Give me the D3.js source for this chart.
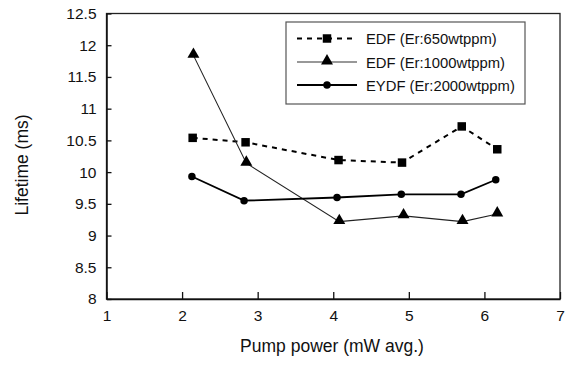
<!DOCTYPE html>
<html><head><meta charset="utf-8">
<script src="https://cdn.jsdelivr.net/npm/d3@7/dist/d3.min.js"></script>
<style>body{margin:0;background:#fff}svg{display:block;font-family:"Liberation Sans",Arial,sans-serif}</style>
</head><body>
<svg id="c" width="567" height="372"></svg>
<script>
const xTicks = [1,2,3,4,5,6,7];
const yTicks = [8,8.5,9,9.5,10,10.5,11,11.5,12,12.5];
const yTickLabels = ["8","8.5","9","9.5","10","10.5","11","11.5","12","12.5"];
const seriesNames = ["EDF (Er:650wtppm)","EDF (Er:1000wtppm)","EYDF (Er:2000wtppm)"];
const xEDF650 = [2.14,2.84,4.07,4.91,5.70,6.17];
const yEDF650 = [10.54,10.47,10.19,10.15,10.72,10.36];
const xEDF1000 = [2.15,2.85,4.08,4.93,5.71,6.17];
const yEDF1000 = [11.84,10.14,9.22,9.31,9.22,9.34];
const xEYDF = [2.13,2.82,4.05,4.90,5.69,6.15];
const yEYDF = [9.93,9.55,9.60,9.65,9.65,9.88];

const svg = d3.select("#c");
const x = d3.scaleLinear().domain([1,7]).range([106.5,560]);
const y = d3.scaleLinear().domain([8,12.5]).range([299,13.5]);

// frame
svg.append("rect").attr("x",106.5).attr("y",13.5).attr("width",453.5).attr("height",285.5)
  .attr("fill","none").attr("stroke","#222").attr("stroke-width",1.3);

const xAxis = svg.append("g").attr("transform","translate(0,299)")
  .call(d3.axisBottom(x).tickValues(xTicks).tickSizeInner(-7).tickSizeOuter(0).tickPadding(11).tickFormat(d3.format("d")));
const yAxis = svg.append("g").attr("transform","translate(106.5,0)")
  .call(d3.axisLeft(y).tickValues(yTicks).tickSizeInner(-5).tickSizeOuter(0).tickPadding(10).tickFormat((d,i)=>yTickLabels[i]));
[xAxis,yAxis].forEach(g=>{
  g.selectAll("path").attr("stroke","#111").attr("stroke-width",1.5);
  g.selectAll("line").attr("stroke","#111").attr("stroke-width",1.3);
  g.selectAll("text").attr("font-size",15.5).attr("fill","#111").attr("font-family","Liberation Sans, Arial, sans-serif");
});

svg.append("text").attr("x",332).attr("y",352).attr("text-anchor","middle")
  .attr("font-size",17.5).attr("fill","#111").text("Pump power (mW avg.)");
svg.append("text").attr("transform","translate(28,165) rotate(-90)").attr("text-anchor","middle")
  .attr("font-size",17.5).attr("fill","#111").text("Lifetime (ms)");

const line = d3.line().x(d=>x(d[0])).y(d=>y(d[1]));
const z = (a,b)=>a.map((v,i)=>[v,b[i]]);
const d650 = z(xEDF650,yEDF650), d1000 = z(xEDF1000,yEDF1000), dEY = z(xEYDF,yEYDF);

svg.append("path").datum(d650).attr("d",line).attr("fill","none").attr("stroke","#000")
  .attr("stroke-width",2).attr("stroke-dasharray","5,5");
svg.append("path").datum(d1000).attr("d",line).attr("fill","none").attr("stroke","#222")
  .attr("stroke-width",1.1);
svg.append("path").datum(dEY).attr("d",line).attr("fill","none").attr("stroke","#000")
  .attr("stroke-width",1.8);

const sq = d3.symbol().type(d3.symbolSquare).size(72);
const tri = d3.symbol().type(d3.symbolTriangle).size(62);
const cir = d3.symbol().type(d3.symbolCircle).size(44);
svg.selectAll(".sq").data(d650).join("path").attr("d",sq)
  .attr("transform",d=>`translate(${x(d[0])},${y(d[1])})`).attr("fill","#000");
svg.selectAll(".tri").data(d1000).join("path").attr("d",tri)
  .attr("transform",d=>`translate(${x(d[0])},${y(d[1])-1})`).attr("fill","#000");
svg.selectAll(".cir").data(dEY).join("path").attr("d",cir)
  .attr("transform",d=>`translate(${x(d[0])},${y(d[1])})`).attr("fill","#000");

// legend
const lg = svg.append("g");
lg.append("rect").attr("x",286).attr("y",22).attr("width",239).attr("height",82)
  .attr("fill","#fff").attr("stroke","#555").attr("stroke-width",1.2);
const rows = [38.5,62,85];
const styles = [
  {w:2,dash:"5,5",c:"#000",sym:sq},
  {w:1.1,dash:null,c:"#333",sym:tri},
  {w:1.8,dash:null,c:"#000",sym:cir}
];
seriesNames.forEach((n,i)=>{
  const s = styles[i];
  const l = lg.append("line").attr("x1",297).attr("x2",357).attr("y1",rows[i]).attr("y2",rows[i])
    .attr("stroke",s.c).attr("stroke-width",s.w);
  if(s.dash) l.attr("stroke-dasharray",s.dash);
  lg.append("path").attr("d",s.sym).attr("transform",`translate(327,${rows[i]-(i===1?1:0)})`).attr("fill","#000");
  lg.append("text").attr("x",366).attr("y",rows[i]+5.5).attr("font-size",14.8).attr("fill","#111").text(n);
});
</script>
</body></html>
